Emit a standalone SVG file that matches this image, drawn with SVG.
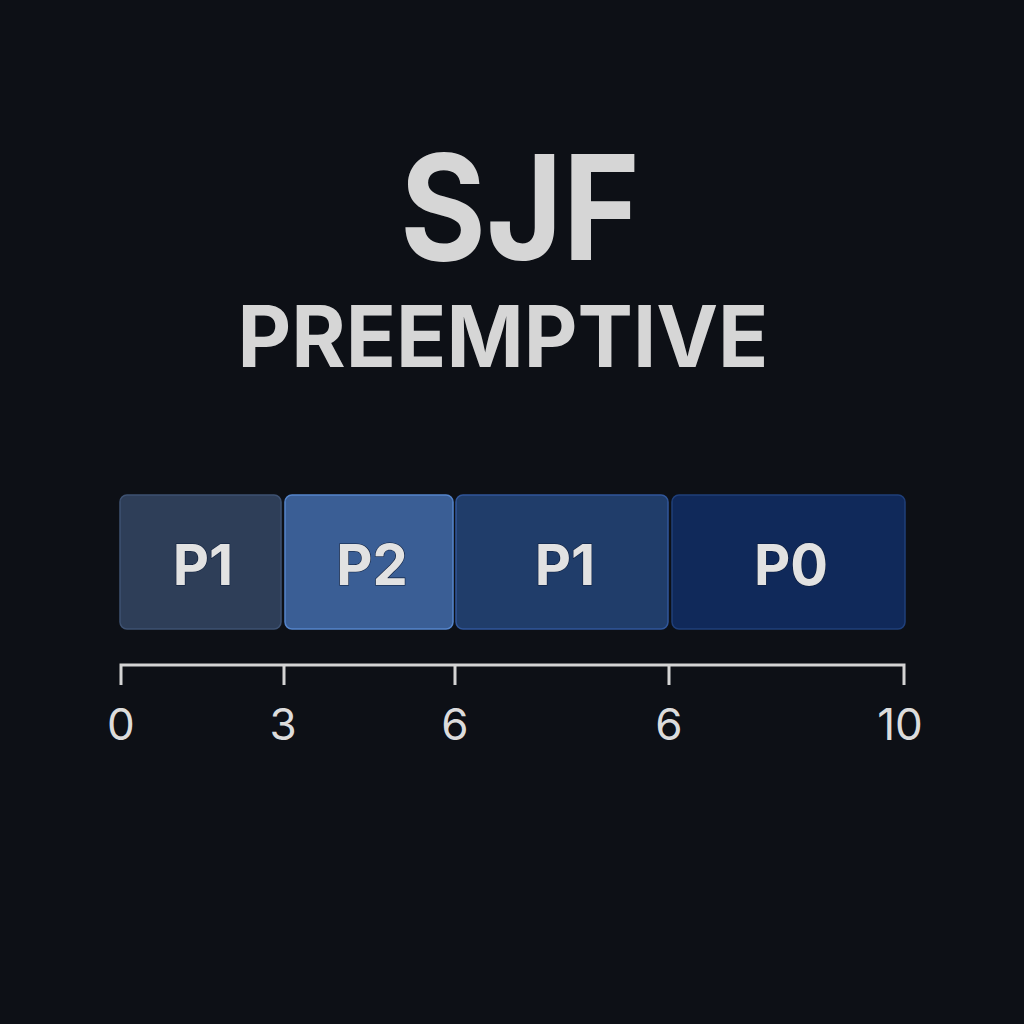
<svg xmlns="http://www.w3.org/2000/svg" width="1024" height="1024" viewBox="0 0 1024 1024">
<defs>
<style>
.t{font-family:Inter,"Liberation Sans",sans-serif;font-weight:700;fill:#d6d6d6;text-anchor:middle}
.box{stroke-width:1.5}
.lbl{font-family:Inter,"Liberation Sans",sans-serif;font-weight:700;font-size:56px;fill:#e2e2e2;text-anchor:middle;stroke:#0e1d3a;stroke-width:1.2;paint-order:stroke}
.ax{stroke:#d4d4d4;stroke-width:3;fill:none}
.num{font-family:Inter,"Liberation Sans",sans-serif;font-size:44px;fill:#dcdcdc;text-anchor:middle}
</style>
</defs>
<rect width="1024" height="1024" fill="#0d1016"/>
<g id="title">
<text class="t" x="520" y="260" font-size="146" textLength="240" lengthAdjust="spacingAndGlyphs">SJF</text>
<text class="t" x="503" y="367" font-size="85" font-weight="600" textLength="531" lengthAdjust="spacingAndGlyphs">PREEMPTIVE</text>
</g>
<g id="p1a">
<rect class="box" x="120" y="495" width="161" height="134" rx="7" fill="#2e3e58" stroke="#3e5272"/>
<text class="lbl" x="203" y="585">P1</text>
</g>
<g id="p2">
<rect class="box" x="285" y="495" width="168" height="134" rx="7" fill="#3a5e95" stroke="#5585cc"/>
<text class="lbl" x="372" y="585">P2</text>
</g>
<g id="p1b">
<rect class="box" x="456" y="495" width="212" height="134" rx="7" fill="#203d6a" stroke="#30569a"/>
<text class="lbl" x="565" y="585">P1</text>
</g>
<g id="p0">
<rect class="box" x="672" y="495" width="233" height="134" rx="7" fill="#10295a" stroke="#1f3f7a"/>
<text class="lbl" x="791" y="585">P0</text>
</g>
<g id="axis">
<path class="ax" d="M121,685 V665 H904 V685 M284,665 V685 M455,665 V685 M669,665 V685"/>
<text class="num" x="121" y="740">0</text>
<text class="num" x="283" y="740">3</text>
<text class="num" x="455" y="740">6</text>
<text class="num" x="669" y="740">6</text>
<text class="num" x="900" y="740">10</text>
</g>
</svg>
